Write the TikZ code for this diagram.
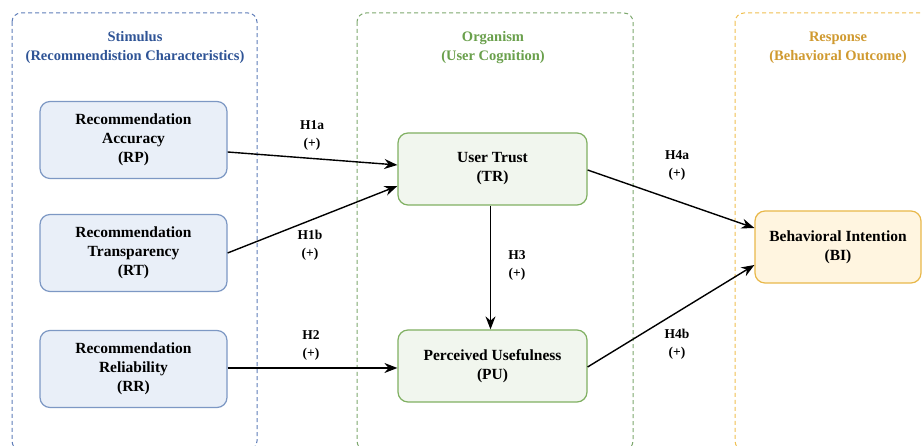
\documentclass[tikz,border=0pt]{standalone}
\usepackage{fontspec}
\setmainfont{Liberation Serif}
\usetikzlibrary{arrows.meta}

\tikzset{
  groupbox/.style={line width=1pt,dash pattern=on 4pt off 3pt,rounded corners=9pt},
  grouptitle/.style={align=center,font=\fontsize{14.5}{19}\selectfont\bfseries,inner sep=0pt},
  construct/.style={draw,line width=1.2pt,rounded corners=10pt,align=center,
    font=\fontsize{15.5}{19}\selectfont\bfseries,text=black,inner sep=0pt},
  hyplabel/.style={align=center,font=\fontsize{13.5}{18}\selectfont\bfseries,inner sep=0pt},
  path/.style={line width=1.4pt,-{Stealth[length=13pt,width=10pt]}}
}

\begin{document}
\begin{tikzpicture}[x=1pt,y=1pt]
\definecolor{stimColor}{RGB}{47,84,150}
\definecolor{stimLine}{RGB}{95,125,185}
\definecolor{stimFill}{RGB}{233,239,248}
\definecolor{stimDraw}{RGB}{125,152,196}
\definecolor{orgColor}{RGB}{106,160,76}
\definecolor{orgLine}{RGB}{125,168,110}
\definecolor{orgFill}{RGB}{241,246,238}
\definecolor{orgDraw}{RGB}{128,176,98}
\definecolor{respColor}{RGB}{208,154,48}
\definecolor{respLine}{RGB}{240,192,80}
\definecolor{respFill}{RGB}{255,245,224}
\definecolor{respDraw}{RGB}{232,184,74}
\useasboundingbox[fill=white] (0,0) rectangle (922,446);
\begin{scope}
\clip (0,0) rectangle (922,446);

% group frames
\draw[groupbox,draw=stimLine] (12,433) rectangle (257,-4);
\draw[groupbox,draw=orgLine] (357,433) rectangle (633,-4);
\draw[groupbox,draw=respLine] (735,433) rectangle (940,-4);

\node[grouptitle,text=stimColor] (stimTitle) at (135,398) {Stimulus\\(Recommendistion Characteristics)};
\node[grouptitle,text=orgColor] (orgTitle) at (493,398) {Organism\\(User Cognition)};
\node[grouptitle,text=respColor] (respTitle) at (838,398) {Response\\(Behavioral Outcome)};

% constructs
\node[construct,draw=stimDraw,fill=stimFill,minimum width=187pt,minimum height=77pt] (RP) at (133.5,306) {Recommendation\\Accuracy\\(RP)};
\node[construct,draw=stimDraw,fill=stimFill,minimum width=187pt,minimum height=77pt] (RT) at (133.5,193) {Recommendation\\Transparency\\(RT)};
\node[construct,draw=stimDraw,fill=stimFill,minimum width=187pt,minimum height=77pt] (RR) at (133.5,77) {Recommendation\\Reliability\\(RR)};

\node[construct,draw=orgDraw,fill=orgFill,minimum width=189pt,minimum height=72pt] (TR) at (492.5,277) {User Trust\\(TR)};
\node[construct,draw=orgDraw,fill=orgFill,minimum width=189pt,minimum height=72pt] (PU) at (492.5,80) {Perceived Usefulness\\(PU)};

\node[construct,draw=respDraw,fill=respFill,minimum width=166pt,minimum height=72pt] (BI) at (838,199) {Behavioral Intention\\(BI)};

% hypotheses
\draw[path] ([yshift=-12pt]RP.east) -- ([yshift=4pt]TR.west);
\draw[path] (RT.east) -- ([yshift=-17pt]TR.west);
\draw[path] ([yshift=1pt]RR.east) -- ([yshift=-2pt]PU.west);
\draw[path] ([xshift=-2pt]TR.south) -- ([xshift=-2pt]PU.north);
\draw[path] ([yshift=-1pt]TR.east) -- ([yshift=19pt]BI.west);
\draw[path] ([yshift=-1pt]PU.east) -- ([yshift=-18pt]BI.west);

\node[hyplabel] (h1a) at (312,311) {H1a\\(+)};
\node[hyplabel] (h1b) at (310,201) {H1b\\(+)};
\node[hyplabel] (h2) at (311,101) {H2\\(+)};
\node[hyplabel] (h3) at (517,181) {H3\\(+)};
\node[hyplabel] (h4a) at (677,280) {H4a\\(+)};
\node[hyplabel] (h4b) at (677,102) {H4b\\(+)};
\end{scope}
\end{tikzpicture}
\end{document}
